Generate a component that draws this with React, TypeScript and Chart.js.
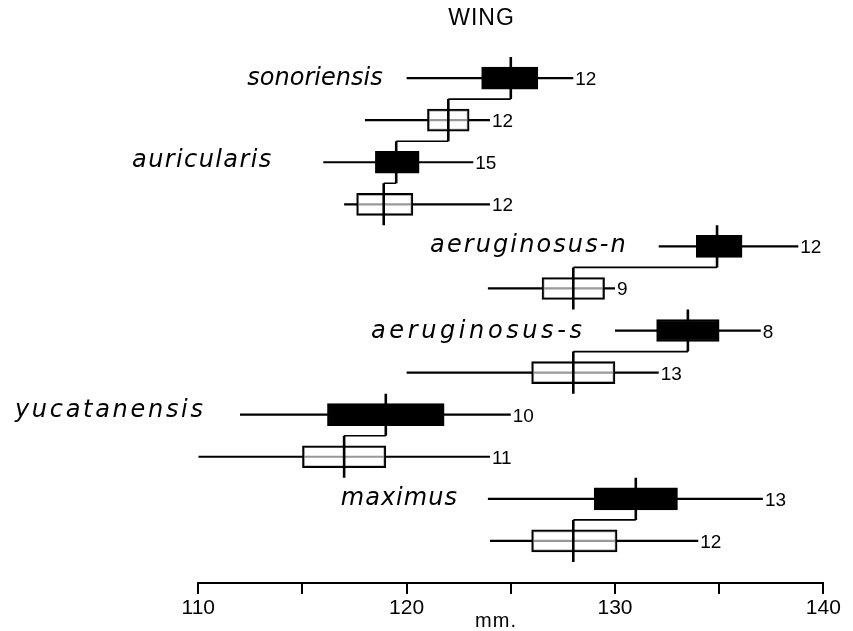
import React, { useEffect, useRef } from 'react';
import { Chart, registerables } from 'chart.js';

Chart.register(...registerables);

// ---- data ----
const chartTitle = 'WING';
const axisUnit = 'mm.';
const species = ['sonoriensis', 'auricularis', 'aeruginosus-n', 'aeruginosus-s', 'yucatanensis', 'maximus'];
// two rows per species: first row (filled box), second row (open box)
const rowMin = [120, 118, 116, 117, 132.1, 123.9, 130, 120, 112, 110, 123.9, 124];
const rowMax = [128, 124, 123.2, 124, 138.8, 130, 137, 132.1, 125, 124, 137.1, 134];
const boxLow = [123.6, 121.0, 118.5, 117.6, 133.9, 126.5, 132.0, 126.0, 116.2, 115.0, 129.0, 126.0];
const boxHigh = [126.3, 123.0, 120.6, 120.3, 136.1, 129.5, 135.0, 130.0, 121.8, 119.0, 133.0, 130.1];
const means = [125.0, 122.0, 119.5, 118.9, 134.9, 128.0, 133.5, 128.0, 119.0, 117.0, 131.0, 128.0];
const counts = [12, 12, 15, 12, 12, 9, 8, 13, 10, 11, 13, 12];
const filledRows = [true, false, true, false, true, false, true, false, true, false, true, false];
const linkFrom = [0, 1, 2, 4, 6, 8, 10];
const xMin = 110;
const xMax = 140;
const xStep = 5;
const labelledTicks = [110, 120, 130, 140];

// ---- label styling (layout, not data) ----
const labelGap = [24, 52, 33, 33, 37, 31];
const labelSpacing = [0, 1.4, 2.1, 3.6, 2.7, 1];
const labelBaseline = [7, 4.4, 5.3, 7.7, 2, 6];

const rows = means.map((_, i) => i);
const GAP = { x: null, y: null };

const textPlugin = {
  id: 'wingTexts',
  afterDatasetsDraw(chart: any) {
    const { ctx } = chart;
    const xs = chart.scales.x;
    const ys = chart.scales.y;
    ctx.save();
    ctx.fillStyle = '#000';

    // sample sizes
    ctx.font = '19px "Liberation Sans", Arial, sans-serif';
    ctx.textAlign = 'left';
    ctx.textBaseline = 'alphabetic';
    counts.forEach((n, i) => {
      ctx.fillText(String(n), xs.getPixelForValue(rowMax[i]) + 2, ys.getPixelForValue(i) + 7);
    });

    // species names
    ctx.font = 'italic 24px "DejaVu Sans", sans-serif';
    species.forEach((s, k) => {
      const i = k * 2;
      const ls = labelSpacing[k];
      (ctx as any).letterSpacing = ls + 'px';
      const w = ctx.measureText(s).width;
      const right = xs.getPixelForValue(rowMin[i]) - labelGap[k];
      ctx.fillText(s, right - w + ls, ys.getPixelForValue(i) + labelBaseline[k]);
    });
    (ctx as any).letterSpacing = '0px';

    // title
    (ctx as any).letterSpacing = '1px';
    ctx.font = '23px "Liberation Sans", Arial, sans-serif';
    ctx.textAlign = 'center';
    ctx.fillText(chartTitle, 481.5, 25);

    // unit
    ctx.font = '20px "Liberation Sans", Arial, sans-serif';
    ctx.fillText(axisUnit, 496, 627);
    (ctx as any).letterSpacing = '0px';
    ctx.restore();
  },
};

export default function App() {
  const ref = useRef<HTMLCanvasElement | null>(null);

  useEffect(() => {
    if (!ref.current) return;

    const rangeData = rows.flatMap((i) => [
      { x: rowMin[i], y: i },
      { x: rowMax[i], y: i },
      GAP,
    ]);
    const boxData = rows.map((i) => ({ x: [boxLow[i], boxHigh[i]], y: i }));
    const meanData = rows.flatMap((i) => [
      { x: means[i], y: i - 0.5 },
      { x: means[i], y: i + 0.5 },
      GAP,
    ]);
    const linkData = linkFrom.flatMap((a) => [
      { x: means[a], y: a + 0.5 },
      { x: means[a + 1], y: a + 0.5 },
      GAP,
    ]);

    const lineCommon = {
      type: 'line' as const,
      borderColor: '#000',
      pointRadius: 0,
      pointHoverRadius: 0,
      fill: false,
      tension: 0,
      spanGaps: false,
    };

    const chart = new Chart(ref.current, {
      type: 'scatter',
      data: {
        datasets: [
          { ...lineCommon, label: 'range', data: rangeData as any, borderWidth: 2.2, order: 3 },
          {
            type: 'bar',
            label: 'box',
            indexAxis: 'y',
            data: boxData as any,
            backgroundColor: rows.map((i) => (filledRows[i] ? '#000' : 'rgba(255,255,255,0.6)')),
            borderColor: '#000',
            borderWidth: 2,
            borderSkipped: false,
            barThickness: 22,
            order: 2,
          } as any,
          { ...lineCommon, label: 'mean', data: meanData as any, borderWidth: 2.6, order: 1 },
          { ...lineCommon, label: 'link', data: linkData as any, borderWidth: 1.6, order: 0 },
        ],
      },
      options: {
        animation: false,
        responsive: false,
        devicePixelRatio: 1,
        events: [],
        layout: { padding: { left: 198.3, right: 29.7, top: 36, bottom: 0 } },
        plugins: {
          legend: { display: false },
          tooltip: { enabled: false },
          title: { display: false },
        },
        scales: {
          x: {
            type: 'linear',
            min: xMin,
            max: xMax,
            offset: false,
            beginAtZero: false,
            afterFit: (scale: any) => {
              scale.height = 48;
            },
            afterBuildTicks: (scale: any) => {
              const t = [];
              for (let v = xMin; v <= xMax; v += xStep) t.push({ value: v });
              scale.ticks = t;
            },
            ticks: {
              color: '#000',
              padding: 2,
              maxRotation: 0,
              autoSkip: false,
              font: { family: '"Liberation Sans", Arial, sans-serif', size: 21 },
              callback: (v: any) => (labelledTicks.includes(Number(v)) ? String(v) : ''),
            },
            grid: {
              display: true,
              drawOnChartArea: false,
              drawTicks: true,
              tickLength: 11,
              tickWidth: 2,
              tickColor: '#000',
              color: '#000',
              lineWidth: 2,
            },
            border: { display: true, color: '#000', width: 2 },
          },
          y: {
            type: 'linear',
            display: false,
            min: -1,
            max: 12,
            reverse: true,
            offset: false,
            beginAtZero: false,
          },
        },
      } as any,
      plugins: [textPlugin],
    });

    return () => chart.destroy();
  }, []);

  return (
    <div style={{ position: 'absolute', left: 0, top: 0, width: 853, height: 631, background: '#fff' }}>
      <canvas ref={ref} width={853} height={631} style={{ display: 'block', width: 853, height: 631 }} />
    </div>
  );
}
